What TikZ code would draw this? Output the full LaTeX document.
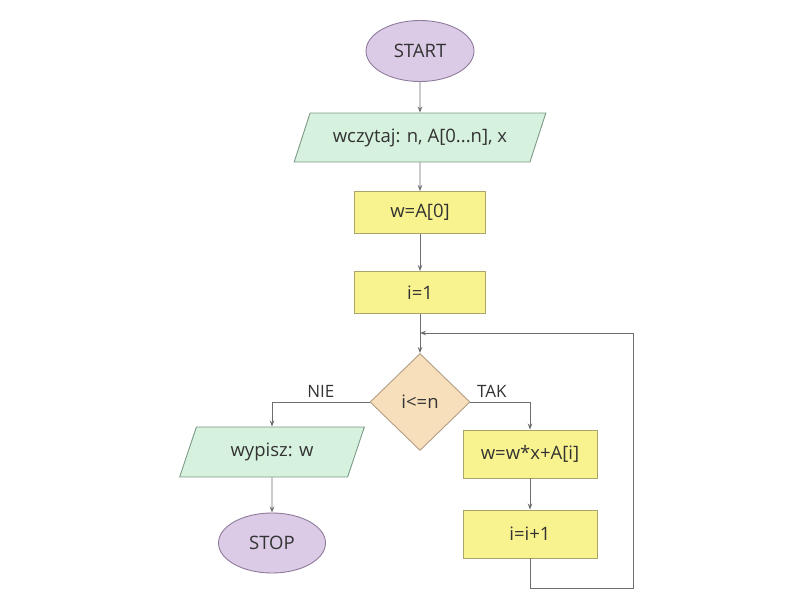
\documentclass[tikz,border=0pt]{standalone}
\usepackage{fontspec}
\setmainfont{Open Sans}
\usetikzlibrary{shapes.geometric,arrows.meta}
\definecolor{txt}{HTML}{333333}
\definecolor{ln}{HTML}{6E6E6E}
\definecolor{ovalfill}{HTML}{DCCBE6}
\definecolor{ovaldraw}{HTML}{8E7C9C}
\definecolor{iofill}{HTML}{D6F1DD}
\definecolor{iodraw}{HTML}{7E9A86}
\definecolor{opfill}{HTML}{F8F38E}
\definecolor{opdraw}{HTML}{A8A46A}
\definecolor{decfill}{HTML}{F7DFBC}
\definecolor{decdraw}{HTML}{B19E86}
\begin{document}
\begin{tikzpicture}[x=1pt,y=-1pt,
  every node/.style={font=\fontsize{18.5}{21}\selectfont, text=txt, inner sep=0pt},
  oval/.style={ellipse, draw=ovaldraw, fill=ovalfill, line width=0.9pt, minimum width=108pt, minimum height=61pt},
  io/.style={trapezium, trapezium stretches=true, draw=iodraw, fill=iofill, line width=0.9pt},
  op/.style={rectangle, draw=opdraw, fill=opfill, line width=0.9pt, minimum width=131pt, minimum height=42pt},
  dec/.style={diamond, draw=decdraw, fill=decfill, line width=0.9pt, minimum width=100pt, minimum height=97pt},
  lbl/.style={font=\fontsize{17}{19}\selectfont},
  conn/.style={draw=ln, line width=0.9pt, -{Stealth[length=6pt,width=4.5pt]}}
]
\useasboundingbox (0,0) rectangle (800,600);
\fill[white] (0,0) rectangle (800,600);

\node[oval] (start) at (420,51) {START};
\node[io, trapezium left angle=55, trapezium right angle=125, minimum width=252pt, minimum height=49pt] (read) at (420,137.5) {wczytaj: n, A[0...n], x};
\node[op] (w0) at (420,212.5) {w=A[0]};
\node[op] (i1) at (420,292.5) {i=1};
\node[dec] (cond) at (420,402) {i<=n};
\node[io, trapezium left angle=63, trapezium right angle=117, minimum width=185pt, minimum height=50pt] (out) at (272,452) {wypisz: w};
\node[oval, minimum width=107pt, minimum height=60pt] (stop) at (272,543) {STOP};
\node[op, minimum width=134pt, minimum height=48pt] (calc) at (530,454) {w=w*x+A[i]};
\node[op, minimum width=134pt, minimum height=48pt] (inc) at (530,534) {i=i+1};

\coordinate (join) at (420,333);
\coordinate (loopA) at (530,588);
\coordinate (loopB) at (633,588);
\coordinate (loopC) at (633,333);

\draw[conn] (start) -- (read);
\draw[conn] (read) -- (w0);
\draw[conn] (w0) -- (i1);
\draw[conn] (i1) -- (cond);
\draw[conn] (cond.west) -| node[lbl, pos=0.25, above=4pt] (nie) {NIE} (out.north);
\draw[conn] (cond.east) -| node[lbl, pos=0.18, above=4pt] (tak) {TAK} (calc.north);
\draw[conn] (calc) -- (inc);
\draw[conn] (inc.south) -- (loopA) -- (loopB) -- (loopC) -- (join);
\draw[conn] (out) -- (stop);
\end{tikzpicture}
\end{document}
